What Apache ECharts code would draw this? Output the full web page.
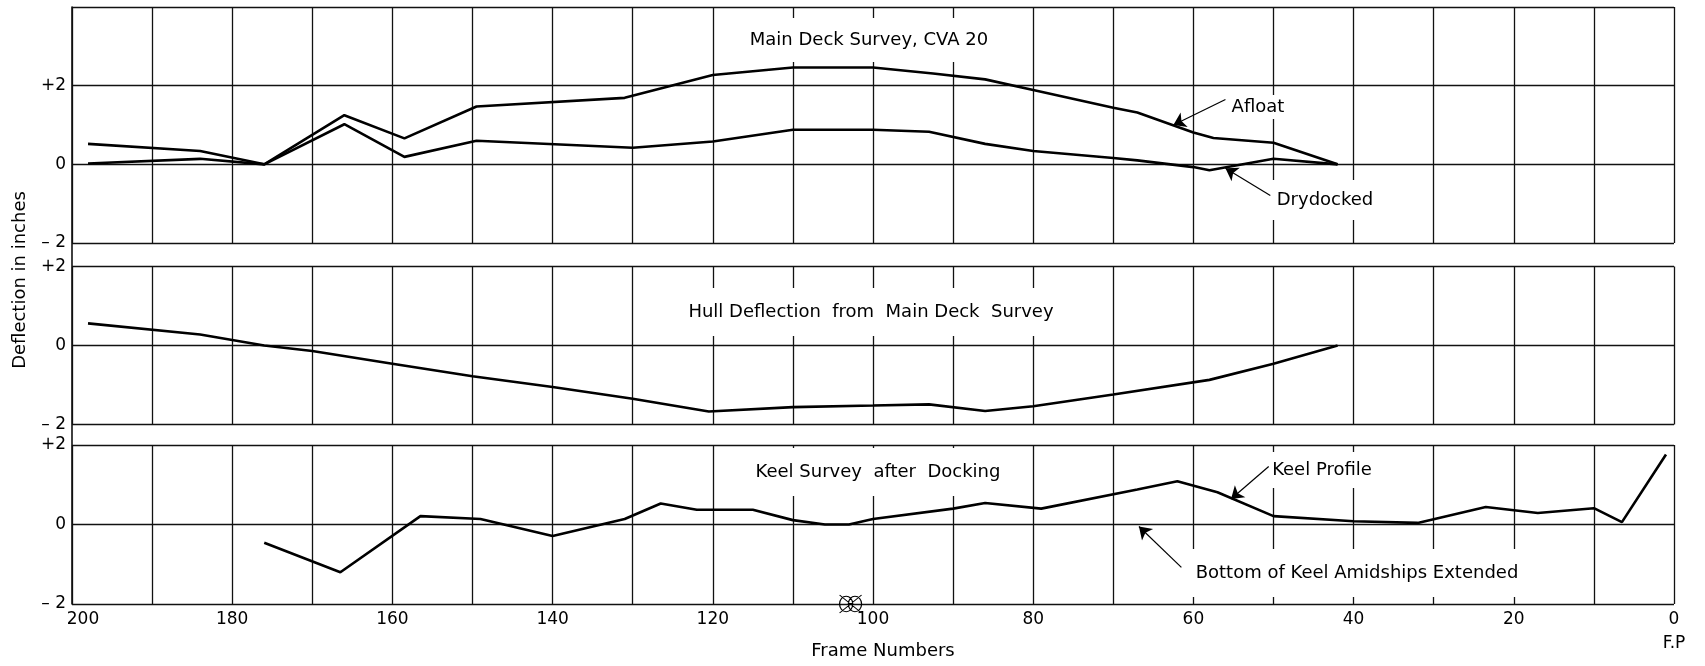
<!DOCTYPE html>
<html>
<head>
<meta charset="utf-8">
<script src="https://cdn.jsdelivr.net/npm/echarts@6/dist/echarts.min.js"></script>
<style>
html,body{margin:0;padding:0;background:#fff;}
#chart{width:1705px;height:666px;}
</style>
</head>
<body>
<div id="chart"></div>
<script>
// ---- Data (frame number, deflection in inches) ----
const afloatFrames   = [198,184,176,166,158.5,149.5,131,120,110,100,92.5,86,80,70,67,60,57.5,50,42];
const afloatValues   = [0.52,0.34,0,1.25,0.66,1.47,1.69,2.27,2.46,2.46,2.31,2.16,1.89,1.44,1.32,0.81,0.67,0.55,0];

const drydockFrames  = [198,184,176,166,158.5,149.5,130,120,110,100,93,86,80,70,67,60,58,50,42];
const drydockValues  = [0.02,0.14,0,1.02,0.19,0.6,0.42,0.58,0.88,0.88,0.83,0.52,0.34,0.16,0.1,-0.07,-0.15,0.14,0];

const hullFrames     = [198,184,176,170,160,150,140,130,120.5,110,100,93,86,80,70,58,50,42];
const hullValues     = [0.56,0.28,0,-0.14,-0.46,-0.78,-1.05,-1.35,-1.67,-1.56,-1.52,-1.49,-1.66,-1.54,-1.24,-0.87,-0.46,0];

const keelFrames     = [176,166.5,156.5,149,140,131,126.5,122,115,110,106,103,100,90,86,79,67,62,57,50,40,32,23.5,17,10,6.5,1];
const keelValues     = [-0.46,-1.2,0.21,0.14,-0.29,0.14,0.53,0.37,0.37,0.11,0,0,0.14,0.4,0.54,0.4,0.88,1.09,0.81,0.21,0.08,0.04,0.44,0.29,0.41,0.06,1.76];

// tick labels
const xTickLabels = {200:'200',180:'180',160:'160',140:'140',120:'120',100:'100',80:'80',60:'60',40:'40',20:'20',0:'0'};
const yTickLabels = {'2':'+2','0':'0','-2':'\u2013 2'};

// annotation leader lines: [fromFrame, fromValue, toFrame, toValue]
const afloatArrow   = [56, 1.65, 62.5, 1.0];
const drydockArrow  = [50.4, -0.79, 56, -0.1];
const keelArrow     = [50.6, 1.46, 55.3, 0.64];
const bottomArrow   = [61.5, -1.08, 66.8, -0.05];
const amidshipsFrame = 102.8;

// ---- helpers ----
const FONT = 'DejaVu Sans';
const zip = (xs, ys) => xs.map((x, i) => [x, ys[i]]);
const arrowLine = arrows => ({
  silent: true,
  symbol: ['none', 'arrow'],
  symbolSize: 12,
  itemStyle: {color: '#000'},
  lineStyle: {color: '#000', width: 1.2, type: 'solid'},
  label: {show: false},
  emphasis: {disabled: true},
  animation: false,
  data: arrows.map(a => [{coord: [a[0], a[1]]}, {coord: [a[2], a[3]]}])
});

const gridLine = {show: true, lineStyle: {color: '#111', width: 1.3}};
const grids = [
  {left: 72, right: 31, top: 7, height: 236, outerBoundsMode: 'none', containLabel: false},
  {left: 72, right: 31, top: 266.5, height: 158, outerBoundsMode: 'none', containLabel: false},
  {left: 72, right: 31, top: 445, height: 159, outerBoundsMode: 'none', containLabel: false},
  {left: 72, right: 31, top: 7, height: 597, outerBoundsMode: 'none', containLabel: false}
];

function xAx(idx, showLabels) {
  return {
    type: 'value', gridIndex: idx, min: 0, max: 200, interval: 10, inverse: true,
    axisLine: {show: false}, axisTick: {show: false},
    splitLine: gridLine,
    axisLabel: showLabels ? {
      show: true, color: '#000', fontFamily: FONT, fontSize: 17, margin: 4, lineHeight: 24,
      formatter: v => {
        if (v === 200) return '{p|' + xTickLabels[200] + '}';
        if (v === 0) return xTickLabels[0] + '\nF.P';
        return xTickLabels[v] !== undefined ? xTickLabels[v] : '';
      },
      rich: {p: {padding: [0, 0, 0, 22], fontFamily: FONT, fontSize: 17, color: '#000', lineHeight: 24}}
    } : {show: false}
  };
}
function yAx(idx, min, max) {
  return {
    type: 'value', gridIndex: idx, min: min, max: max, interval: 2,
    axisLine: {show: false}, axisTick: {show: false},
    splitLine: gridLine,
    axisLabel: {
      show: true, color: '#000', fontFamily: FONT, fontSize: 17, margin: 6,
      formatter: v => (yTickLabels[String(v)] !== undefined ? yTickLabels[String(v)] : '')
    }
  };
}

function label(text, x, y, pad, extra) {
  return Object.assign({type: 'text', z: 1, x: x, y: y, style: Object.assign({
    text: text, font: '18px "DejaVu Sans"', fill: '#000',
    align: 'center', verticalAlign: 'middle', textAlign: 'center', textVerticalAlign: 'middle'
  }, pad ? {backgroundColor: '#fff', padding: pad} : {})}, extra || {});
}

const chart = echarts.init(document.getElementById('chart'), null, {renderer: 'canvas'});
const lineStyle = {color: '#000', width: 2.6};
const baseSeries = {type: 'line', showSymbol: false, symbol: 'none', lineStyle: lineStyle,
  itemStyle: {color: '#000'}, animation: false, silent: true, z: 3};

chart.setOption({
  backgroundColor: '#fff',
  animation: false,
  grid: grids,
  xAxis: [xAx(0, false), xAx(1, false), xAx(2, true),
    {type: 'value', gridIndex: 3, min: 0, max: 1, show: false}],
  yAxis: [yAx(0, -2, 4), yAx(1, -2, 2), yAx(2, -2, 2),
    {type: 'value', gridIndex: 3, min: 0, max: 1, position: 'right',
     axisLine: {show: true, lineStyle: {color: '#111', width: 1.6}},
     axisTick: {show: false}, axisLabel: {show: false}, splitLine: {show: false}}],
  series: [
    Object.assign({}, baseSeries, {name: 'Afloat', xAxisIndex: 0, yAxisIndex: 0,
      data: zip(afloatFrames, afloatValues), markLine: arrowLine([afloatArrow])}),
    Object.assign({}, baseSeries, {name: 'Drydocked', xAxisIndex: 0, yAxisIndex: 0,
      data: zip(drydockFrames, drydockValues), markLine: arrowLine([drydockArrow])}),
    Object.assign({}, baseSeries, {name: 'Hull Deflection', xAxisIndex: 1, yAxisIndex: 1,
      data: zip(hullFrames, hullValues)}),
    Object.assign({}, baseSeries, {name: 'Keel Profile', xAxisIndex: 2, yAxisIndex: 2,
      data: zip(keelFrames, keelValues),
      markLine: arrowLine([keelArrow, bottomArrow]),
      markPoint: {
        silent: true, animation: false,
        symbol: 'path://M1,9 a6,6 0 1,0 12,0 a6,6 0 1,0 -12,0 Z M9,9 a6,6 0 1,0 12,0 a6,6 0 1,0 -12,0 Z M1,2 L21,16 M1,16 L21,2',
        symbolSize: [22, 18],
        itemStyle: {color: 'rgba(0,0,0,0)', borderColor: '#000', borderWidth: 1.1},
        label: {show: false},
        data: [{coord: [amidshipsFrame, -2]}]
      }})
  ],
  graphic: [
    label('Main Deck Survey, CVA 20', 869, 40, [13, 8]),
    label('Hull Deflection  from  Main Deck  Survey', 871, 312, [15, 8]),
    label('Keel Survey  after  Docking', 878, 472, [15, 8]),
    label('Afloat', 1258, 107, [3, 4]),
    label('Drydocked', 1325, 200, [11, 6]),
    label('Keel Profile', 1322, 470, [9, 4]),
    label('Bottom of Keel Amidships Extended', 1357, 573, [15, 6]),
    label('Frame Numbers', 883, 651, null),
    label('Deflection in inches', 20, 280, null, {rotation: Math.PI / 2})
  ]
});
</script>
</body>
</html>
